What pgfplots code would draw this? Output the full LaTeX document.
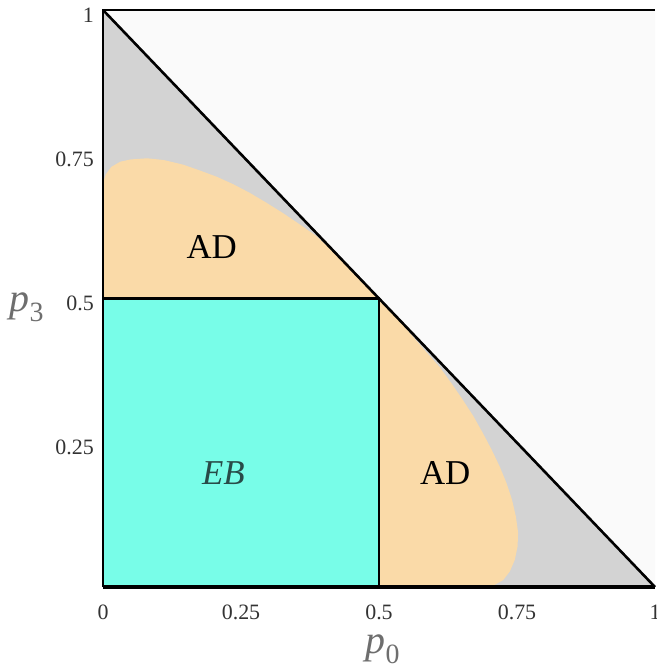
\documentclass[border=0pt]{standalone}
\usepackage{fontspec}
\setmainfont{Liberation Serif}
\usepackage{pgfplots}
\pgfplotsset{compat=1.18}
\definecolor{ebcyan}{RGB}{120,253,232}
\definecolor{adorange}{RGB}{250,218,168}
\definecolor{lowgray}{RGB}{211,211,211}
\definecolor{upgray}{RGB}{250,250,250}
\definecolor{labgray}{RGB}{110,110,110}
\definecolor{tickgray}{RGB}{51,51,51}
\definecolor{ebtext}{RGB}{40,75,72}

\begin{document}
\begin{tikzpicture}
\begin{axis}[
    scale only axis,
    width=552bp, height=577bp,
    xmin=0, xmax=1, ymin=0, ymax=1,
    clip=false,
    axis line style={draw=none},
    major tick length=0pt,
    xtick={0,0.25,0.5,0.75,1},
    xticklabels={0,0.25,0.5,0.75,1},
    ytick={0.25,0.5,0.75,1},
    yticklabels={0.25,0.5,0.75,1},
    /pgf/number format/assume math mode=true,
    tick label style={font=\fontsize{22}{26}\selectfont, text=tickgray, inner sep=0pt},
    xticklabel style={anchor=center, yshift=-25bp},
    yticklabel style={anchor=east, xshift=-9bp, yshift=-5bp},
    xlabel={\textit{p}\textsubscript{0}},
    ylabel={\textit{p}\textsubscript{3}},
    label style={font=\fontsize{40}{46}\selectfont, text=labgray, inner sep=0pt},
    xlabel style={at={(axis description cs:0.507,-0.116)}, anchor=base},
    ylabel style={at={(axis description cs:-0.138,0.477)}, anchor=base, rotate=-90},
]
% background regions
\addplot[fill=upgray, draw=none] coordinates {(0,1) (1,1) (1,0)} -- cycle;
\addplot[fill=lowgray, draw=none] coordinates {(0,0) (1,0) (0,1)} -- cycle;

% upper AD lobe
\addplot[fill=adorange, draw=none] coordinates {
    (0,0.5) (0,0.700) (0.005,0.715) (0.015,0.728) (0.031,0.737) (0.05,0.741)
    (0.080,0.743) (0.11,0.740) (0.145,0.732) (0.175,0.722) (0.206,0.711)
    (0.236,0.698) (0.266,0.683) (0.296,0.666) (0.326,0.648) (0.357,0.628)
    (0.388,0.607) (0.418,0.580) (0.447,0.553) (0.5,0.5)} -- cycle;

% right AD lobe
\addplot[fill=adorange, draw=none] coordinates {
    (0.5,0.5) (0.53,0.47) (0.556,0.44) (0.583,0.41) (0.610,0.381) (0.632,0.352)
    (0.652,0.324) (0.671,0.296) (0.688,0.267) (0.704,0.238) (0.719,0.208)
    (0.731,0.180) (0.741,0.151) (0.748,0.122) (0.752,0.094) (0.751,0.070)
    (0.746,0.047) (0.737,0.027) (0.725,0.012) (0.708,0.003) (0.688,0)
    (0.5,0)} -- cycle;

% EB square
\addplot[fill=ebcyan, draw=none] coordinates {(0,0) (0.5,0) (0.5,0.5) (0,0.5)} -- cycle;

% borders
\addplot[draw=black, line width=2.6bp] coordinates {(0,0.5) (0.5,0.5) (0.5,0)};
\addplot[draw=black, line width=2.6bp] coordinates {(0,1) (1,0)};
\addplot[draw=black, line width=2.6bp] coordinates {(0,0) (0,1) (1,1)};
\addplot[draw=black, line width=4bp] coordinates {(0,0) (1,0)};

\node[font=\fontsize{35}{40}\selectfont] at (axis cs:0.197,0.589) {AD};
\node[font=\fontsize{35}{40}\selectfont] at (axis cs:0.620,0.198) {AD};
\node[font=\fontsize{35}{40}\selectfont\itshape, text=ebtext] at (axis cs:0.218,0.198) {EB};
\end{axis}
\pgfresetboundingbox
\path[use as bounding box] ([shift={(-103bp,-84bp)}]current axis.south west)
    rectangle ([shift={(2bp,10bp)}]current axis.north east);
\end{tikzpicture}
\end{document}
